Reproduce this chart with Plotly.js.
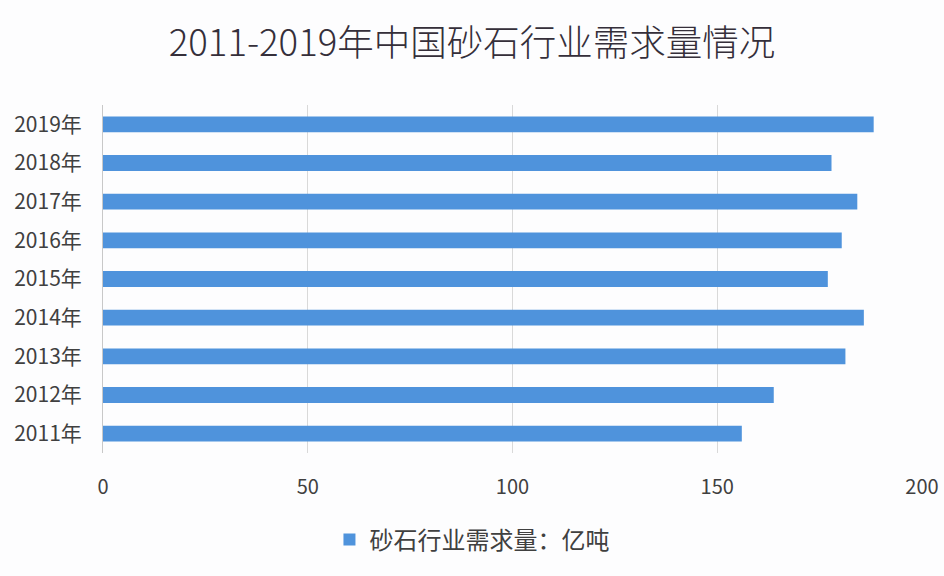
<!DOCTYPE html>
<html>
<head>
<meta charset="utf-8">
<script src="https://cdn.plot.ly/plotly-3.0.1.min.js"></script>
<style>html,body{margin:0;padding:0;background:#fdfdfe;}#chart{width:944px;height:576px;}</style>
</head>
<body>
<div id="chart"></div>
<script>
const years = ["2011年","2012年","2013年","2014年","2015年","2016年","2017年","2018年","2019年"];
const demand = [156.0, 163.8, 181.3, 185.8, 177.0, 180.4, 184.2, 177.9, 188.2];
const seriesName = "砂石行业需求量：亿吨";
const chartTitle = "2011-2019年中国砂石行业需求量情况";
const xTicks = [0, 50, 100, 150, 200];

const font = '"Noto Sans CJK SC", "Noto Sans", sans-serif';
const trace = {
  type: 'bar',
  orientation: 'h',
  y: years,
  x: demand,
  name: seriesName,
  marker: {color: '#4f93dc'},
  showlegend: true,
  hoverinfo: 'x+y'
};
const layout = {
  width: 944, height: 576,
  paper_bgcolor: '#fdfdfe', plot_bgcolor: '#fdfdfe',
  margin: {l: 103, r: 22, t: 105, b: 123, autoexpand: false},
  bargap: 0.59,
  font: {family: font, color: '#404040'},
  title: {text: chartTitle, font: {family: font, size: 36.5, color: '#352f3a', weight: 300}, x: 0.5, xref: 'container', xanchor: 'center', y: 0.925, yanchor: 'middle'},
  xaxis: {
    range: [0, 200], tickvals: xTicks, ticktext: xTicks.map(String),
    showgrid: true, gridcolor: '#d9d9d9', gridwidth: 1,
    zeroline: false, showline: false,
    ticks: '', ticklabelstandoff: 20,
    tickfont: {size: 20, color: '#404040', family: font}
  },
  yaxis: {
    type: 'category', categoryorder: 'array', categoryarray: years,
    showline: true, linecolor: '#c8c8c8', linewidth: 1,
    showgrid: false, zeroline: false, ticks: '', ticklabelstandoff: 16,
    tickfont: {size: 21, color: '#404040', family: font}
  },
  legend: {orientation: 'h', x: 0.4505, xanchor: 'center', y: -0.25, yanchor: 'middle',
    font: {size: 24, color: '#404040', family: font}, bgcolor: 'rgba(0,0,0,0)'}
};
Plotly.newPlot('chart', [trace], layout, {displayModeBar: false, staticPlot: true});
</script>
</body>
</html>
